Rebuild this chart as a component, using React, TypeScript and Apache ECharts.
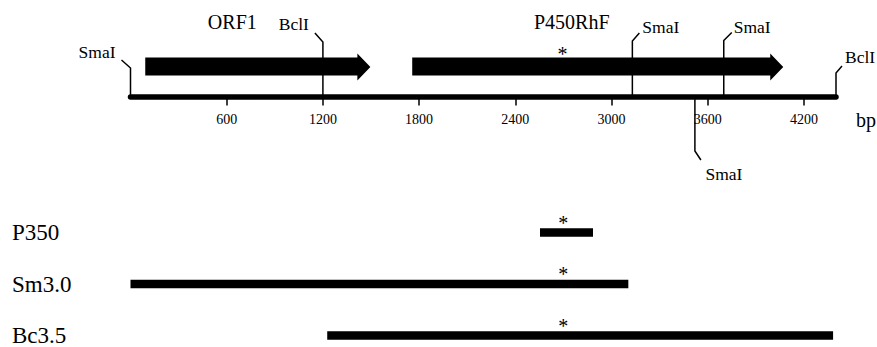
import React, { useEffect, useRef } from 'react';
import * as echarts from 'echarts';

// ---- data (bp) ----
const axisMin = 0;
const axisMax = 4400;
const tickValues = [600, 1200, 1800, 2400, 3000, 3600, 4200];
const geneNames = ['ORF1', 'P450RhF'];
const geneStart = [92, 1757];
const geneEnd = [1496, 4071];
const siteNames = ['SmaI', 'BclI', 'SmaI', 'SmaI', 'SmaI', 'BclI'];
const sitePositions = [0, 1200, 3130, 3520, 3700, 4400];
const fragmentNames = ['P350', 'Sm3.0', 'Bc3.5'];
const fragmentStart = [2550, 0, 1225];
const fragmentEnd = [2880, 3100, 4375];
const markerPosition = 2695; // '*'

// ---- layout (pixels / label anchors) ----
const FONT = "'Liberation Serif', 'Times New Roman', serif";
const geneLabelAt = [635, 2752];
type SiteLayout = { dir: 1 | -1; len: number; dx: number; dy: number; tx: number; ty: number; align: string };
const siteLayout: SiteLayout[] = [
  { dir: -1, len: 28.5, dx: -9, dy: -8, tx: -15, ty: -44.5, align: 'right' },
  { dir: -1, len: 54.5, dx: -8, dy: -9, tx: -14, ty: -72.5, align: 'right' },
  { dir: -1, len: 55.5, dx: 7, dy: -8, tx: 10, ty: -69.5, align: 'left' },
  { dir: 1, len: 54.5, dx: 6, dy: 9, tx: 29, ty: 77.5, align: 'center' },
  { dir: -1, len: 56, dx: 8, dy: -8, tx: 10, ty: -69.5, align: 'left' },
  { dir: -1, len: 23.5, dx: 6, dy: -7, tx: 9, ty: -39.5, align: 'left' },
];

export default function App() {
  const ref = useRef<HTMLDivElement>(null);
  useEffect(() => {
    document.body.style.margin = '0';
    if (!ref.current) return;
    const chart = echarts.init(ref.current, undefined, { renderer: 'svg' });

    const option: any = {
      animation: false,
      backgroundColor: '#ffffff',
      grid: [
        { left: 130.5, width: 706.6, top: 0, height: 96.5 },
        { left: 130.5, width: 706.6, top: 232.5, height: 107 },
      ],
      xAxis: [
        {
          gridIndex: 0,
          type: 'value',
          min: axisMin,
          max: axisMax,
          interval: 600,
          position: 'bottom',
          name: 'bp',
          nameLocation: 'end',
          nameGap: 20,
          nameTextStyle: { color: '#000', fontSize: 20, fontFamily: FONT, verticalAlign: 'top', padding: [13, 0, 0, 0] },
          axisLine: { show: true, onZero: false, lineStyle: { color: '#000', width: 5.5, cap: 'round' } },
          axisTick: { show: true, inside: false, length: 9, lineStyle: { color: '#000', width: 1.5 }, customValues: tickValues },
          axisLabel: {
            show: true,
            margin: 16,
            color: '#000',
            fontSize: 14,
            fontFamily: FONT,
            customValues: tickValues,
            formatter: (v: number) => String(v),
          },
          splitLine: { show: false },
        },
        { gridIndex: 1, type: 'value', min: axisMin, max: axisMax, show: false, splitLine: { show: false } },
      ],
      yAxis: [
        { gridIndex: 0, type: 'value', min: 0, max: 1, show: false, splitLine: { show: false } },
        {
          gridIndex: 1,
          type: 'category',
          data: fragmentNames,
          inverse: true,
          boundaryGap: false,
          axisLine: { show: false },
          axisTick: { show: false },
          splitLine: { show: false },
          axisLabel: { show: true, align: 'left', margin: 118.5, color: '#000', fontSize: 23, fontFamily: FONT },
        },
      ],
      series: [
        {
          type: 'custom',
          xAxisIndex: 0,
          yAxisIndex: 0,
          data: geneNames.map((n, i) => [geneStart[i], geneEnd[i], i]),
          renderItem: (params: any, api: any) => {
            const i = params.dataIndex;
            const s = api.coord([api.value(0), 0]);
            const e = api.coord([api.value(1), 0]);
            const ay = s[1];
            const head = 13;
            const pts = [
              [s[0], ay - 39],
              [e[0] - head, ay - 39],
              [e[0] - head, ay - 43],
              [e[0], ay - 29.5],
              [e[0] - head, ay - 16],
              [e[0] - head, ay - 21],
              [s[0], ay - 21],
            ];
            const lab = api.coord([geneLabelAt[i], 0]);
            const children: any[] = [
              { type: 'polygon', shape: { points: pts }, style: { fill: '#000' } },
              {
                type: 'text',
                x: lab[0],
                y: ay - 75,
                style: { text: geneNames[i], fontSize: 20, fontFamily: FONT, fill: '#000', align: 'center', verticalAlign: 'middle' },
              },
            ];
            if (i === 1) {
              const m = api.coord([markerPosition, 0]);
              children.push({
                type: 'text',
                x: m[0],
                y: ay - 43,
                style: { text: '*', fontSize: 20, fontFamily: FONT, fill: '#000', align: 'center', verticalAlign: 'middle' },
              });
            }
            return { type: 'group', children };
          },
        },
        {
          type: 'custom',
          xAxisIndex: 0,
          yAxisIndex: 0,
          z: 5,
          data: sitePositions.map((p, i) => [p, i]),
          renderItem: (params: any, api: any) => {
            const i = params.dataIndex;
            const L = siteLayout[i];
            const p = api.coord([api.value(0), 0]);
            const x = p[0];
            const ay = p[1];
            const y1 = ay + L.dir * L.len;
            const pts = [
              [x, ay],
              [x, y1],
              [x + L.dx, y1 + L.dy],
            ];
            return {
              type: 'group',
              children: [
                { type: 'polyline', shape: { points: pts }, style: { stroke: '#000', lineWidth: 1.5, fill: 'none' } },
                {
                  type: 'text',
                  x: x + L.tx,
                  y: ay + L.ty,
                  style: { text: siteNames[i], fontSize: 17.5, fontFamily: FONT, fill: '#000', align: L.align, verticalAlign: 'middle' },
                },
              ],
            };
          },
        },
        {
          type: 'custom',
          xAxisIndex: 1,
          yAxisIndex: 1,
          data: fragmentNames.map((n, i) => [fragmentStart[i], fragmentEnd[i], i]),
          renderItem: (params: any, api: any) => {
            const i = params.dataIndex;
            const s = api.coord([api.value(0), i]);
            const e = api.coord([api.value(1), i]);
            const m = api.coord([markerPosition, i]);
            return {
              type: 'group',
              children: [
                { type: 'rect', shape: { x: s[0], y: s[1] - 4.3, width: e[0] - s[0], height: 8.6 }, style: { fill: '#000' } },
                {
                  type: 'text',
                  x: m[0],
                  y: s[1] - 10,
                  style: { text: '*', fontSize: 20, fontFamily: FONT, fill: '#000', align: 'center', verticalAlign: 'middle' },
                },
              ],
            };
          },
        },
      ],
    };
    chart.setOption(option);
    return () => chart.dispose();
  }, []);
  return <div ref={ref} style={{ width: 877, height: 347 }} />;
}
